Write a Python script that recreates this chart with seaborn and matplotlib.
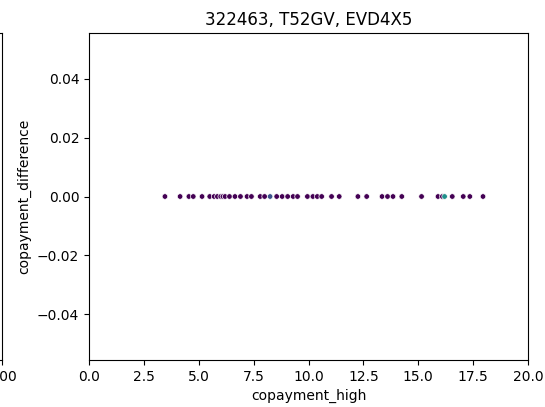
import matplotlib
matplotlib.use("Agg")
import matplotlib.pyplot as plt
import seaborn as sns
import pandas as pd

copayment_high = [3.46, 4.15, 4.55, 4.75, 5.15, 5.5, 5.7, 5.85, 6.0, 6.1, 6.2, 6.4,
                  6.65, 6.9, 7.2, 7.4, 7.8, 8.0, 8.25, 8.55, 8.8, 9.05, 9.3, 9.5,
                  9.95, 10.2, 10.4, 10.6, 11.05, 11.4, 12.25, 12.65, 13.35, 13.6,
                  13.85, 14.25, 15.15, 15.9, 16.1, 16.2, 16.55, 17.05, 17.35, 17.95]
copayment_difference = [0.0] * len(copayment_high)
group = [0] * len(copayment_high)
group[18] = 1   # bluish point near 8.25
group[39] = 2   # teal point near 16.2

df = pd.DataFrame({"copayment_high": copayment_high,
                   "copayment_difference": copayment_difference,
                   "group": group})

fig = plt.figure(figsize=(5.45, 4.07), dpi=100)
W, H = 545, 407
top_px, bot_px = 33, 360

# partially visible neighbouring subplot on the left (cropped)
ax0 = fig.add_axes([(2 - 439) / W, 1 - bot_px / H, 439 / W, (bot_px - top_px) / H])
ax0.set_xlim(0, 1)
ax0.set_xticks([1.0])
ax0.set_xticklabels(["1.00"])
ax0.set_yticks([])

ax = fig.add_axes([89 / W, 1 - bot_px / H, (528 - 89) / W, (bot_px - top_px) / H])
sns.scatterplot(data=df, x="copayment_high", y="copayment_difference",
                hue="group", palette=["#440154", "#3b528b", "#21918c"],
                s=16, linewidth=0.5, edgecolor="white", legend=False, ax=ax)
ax.set_xlim(0, 20)
ax.set_ylim(-0.0555, 0.0555)
ax.set_xticks([0, 2.5, 5, 7.5, 10, 12.5, 15, 17.5, 20])
ax.set_xticklabels(["0.0", "2.5", "5.0", "7.5", "10.0", "12.5", "15.0", "17.5", "20.0"])
ax.set_yticks([-0.04, -0.02, 0.0, 0.02, 0.04])
ax.set_yticklabels(["\u22120.04", "\u22120.02", "0.00", "0.02", "0.04"])
ax.set_title("322463, T52GV, EVD4X5", fontsize=12)
ax.set_xlabel("copayment_high")
ax.set_ylabel("copayment_difference")

fig.savefig("out.png", dpi=100)
